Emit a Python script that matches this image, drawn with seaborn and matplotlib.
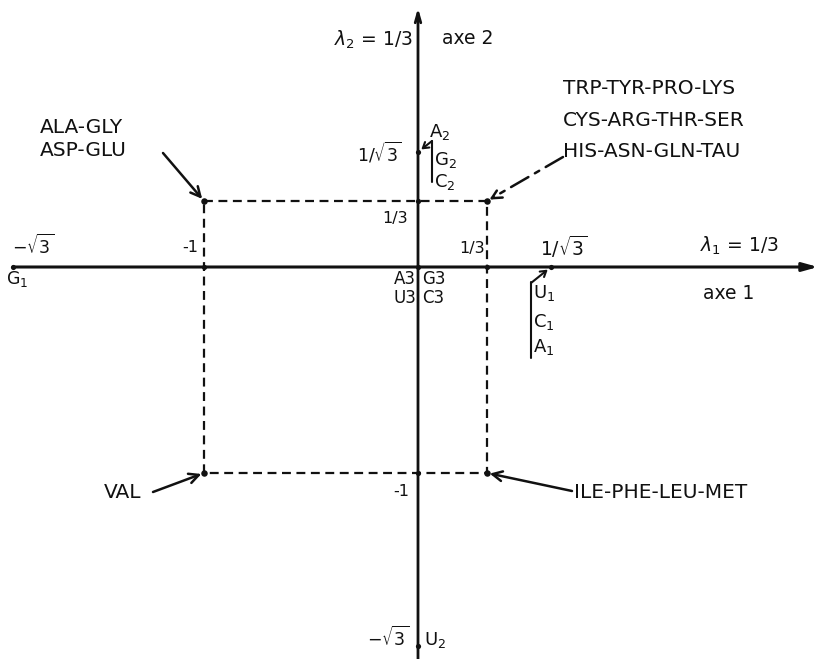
import numpy as np
import matplotlib
matplotlib.use("Agg")
import matplotlib.pyplot as plt
import seaborn as sns

R3 = np.sqrt(3)

# axis values (coordinates of the diagram, not to scale)
x_ticks = [-R3, -1, 1/3, 1/R3]
x_tick_labels = [r"$-\sqrt{3}$", "-1", "1/3", r"$1/\sqrt{3}$"]
y_ticks = [1/R3, 1/3, -1, -R3]
y_tick_labels = [r"$1/\sqrt{3}$", "1/3", "-1", r"$-\sqrt{3}$"]
axis_names = ["axe 1", "axe 2"]
eigen_labels = [r"$\lambda_1$ = 1/3", r"$\lambda_2$ = 1/3"]

# nucleotide positions
nuc_x = [-R3, 1/R3, 0, 0, 0]
nuc_y = [0, 0, 1/R3, -R3, 0]

# amino acid groups at the rectangle corners
aa_x = [-1, 1/3, -1, 1/3]
aa_y = [1/3, 1/3, -1, -1]
aa_groups = [
    "ALA-GLY\nASP-GLU",
    "TRP-TYR-PRO-LYS\nCYS-ARG-THR-SER\nHIS-ASN-GLN-TAU",
    "VAL",
    "ILE-PHE-LEU-MET",
]

W, H = 818, 659

# the drawing is not to scale: piecewise linear scale fitted to the picture
x_anchor = [-R3, -1, 0, 1/3, 1/R3]
x_pix = [13, 204, 418, 487, 551]
y_anchor = [-R3, -1, 0, 1/3, 1/R3]
y_pix = [H - 646, H - 473, H - 267, H - 201, H - 152]


def piecewise(vals, pix):
    vals = np.asarray(vals, float)
    pix = np.asarray(pix, float)

    def make(a, b):
        def f(v):
            v = np.asarray(v, float)
            out = np.interp(v, a, b)
            s0 = (b[1] - b[0]) / (a[1] - a[0])
            s1 = (b[-1] - b[-2]) / (a[-1] - a[-2])
            out = np.where(v < a[0], b[0] + (v - a[0]) * s0, out)
            out = np.where(v > a[-1], b[-1] + (v - a[-1]) * s1, out)
            return out
        return f
    return make(vals, pix), make(pix, vals)


xf, xi = piecewise(x_anchor, x_pix)
yf, yi = piecewise(y_anchor, y_pix)

sns.set_style("white")
plt.rcParams["font.family"] = ["DejaVu Sans"]
plt.rcParams["mathtext.fontset"] = "dejavusans"

fig = plt.figure(figsize=(W / 100, H / 100), dpi=100)
ax = fig.add_axes([0, 0, 1, 1])
ax.set_xscale("function", functions=(xf, xi))
ax.set_yscale("function", functions=(yf, yi))
ax.set_xlim(float(xi(0)), float(xi(W)))
ax.set_ylim(float(yi(0)), float(yi(H)))
ax.axis("off")

ink = "#111111"

# main axes with arrows
ax.annotate("", xy=(float(xi(818)), 0), xytext=(min(x_ticks), 0),
            arrowprops=dict(arrowstyle="-|>,head_length=0.9,head_width=0.25",
                            color=ink, lw=2.2, shrinkA=0, shrinkB=0))
ax.annotate("", xy=(0, float(yi(H - 8))), xytext=(0, float(yi(0))),
            arrowprops=dict(arrowstyle="->,head_length=0.7,head_width=0.2",
                            color=ink, lw=2.0, shrinkA=0, shrinkB=0))

# dashed rectangle through the amino acid points
rect_x = [aa_x[0], aa_x[1], aa_x[3], aa_x[2], aa_x[0]]
rect_y = [aa_y[0], aa_y[1], aa_y[3], aa_y[2], aa_y[0]]
ax.plot(rect_x, rect_y, color=ink, lw=1.6, ls=(0, (4, 2.5)))

# dots
sns.scatterplot(x=nuc_x + x_ticks[1:3] + [0, 0], y=nuc_y + [0, 0] + y_ticks[1:3],
                color=ink, s=14, edgecolor=ink, linewidth=0, ax=ax, zorder=5)
sns.scatterplot(x=aa_x, y=aa_y, color=ink, s=22, linewidth=0, ax=ax, zorder=5)


def put(txt, px, py, ha="left", size=10.5, **kw):
    fig.text(px / W, 1 - py / H, txt, ha=ha, va="center", fontsize=size,
             color=ink, **kw)


# axis labels
put(eigen_labels[1], 413, 40, ha="right", size=13.5)
put(axis_names[1], 442, 38, size=13.5)
put(eigen_labels[0], 700, 246, size=13.5)
put(axis_names[0], 703, 294, size=13.5)

# tick labels on x axis
put(x_tick_labels[0], 12, 246, size=12.5)
put(x_tick_labels[1], 182, 248, size=11.5)
put(x_tick_labels[2], 459, 248, size=11.5)
put(x_tick_labels[3], 540, 247, size=13.5)
# tick labels on y axis
put(y_tick_labels[0], 401, 153, ha="right", size=12.5)
put(y_tick_labels[1], 408, 218, ha="right", size=11.5)
put(y_tick_labels[2], 409, 492, ha="right", size=11.5)
put(y_tick_labels[3], 409, 638, ha="right", size=12.5)

# nucleotide labels
put(r"G$_1$", 6, 279, size=12.5)
put("A3", 416, 279, ha="right", size=12)
put("U3", 416, 298, ha="right", size=12)
put("G3", 422, 279, size=12)
put("C3", 422, 298, size=12)
put(r"A$_2$", 429, 132, size=13)
put(r"G$_2$", 434, 160, size=13)
put(r"C$_2$", 434, 182, size=13)
put(r"U$_1$", 533, 293, size=13)
put(r"C$_1$", 533, 322, size=13)
put(r"A$_1$", 533, 347, size=13)
put(r"U$_2$", 424, 640, size=13)

# bracket bars next to the nucleotide groups
ax.plot([float(xi(432))] * 2, [float(yi(H - 141)), float(yi(H - 182))], color=ink, lw=1.5)
ax.plot([float(xi(531))] * 2, [float(yi(H - 282)), float(yi(H - 358))], color=ink, lw=1.5)
arrow_small = dict(arrowstyle="->,head_length=0.4,head_width=0.25", color=ink, lw=1.5,
                   shrinkA=0, shrinkB=3)
ax.annotate("", xy=(nuc_x[2], nuc_y[2]), xytext=(432, H - 141),
            textcoords="figure pixels", arrowprops=arrow_small)
ax.annotate("", xy=(nuc_x[1], nuc_y[1]), xytext=(531, H - 283),
            textcoords="figure pixels", arrowprops=arrow_small)

# amino acid groups with arrows
arrow_big = dict(arrowstyle="->,head_length=0.7,head_width=0.35", color=ink, lw=1.8,
                 shrinkA=0, shrinkB=2)
aa_size = 14.5
put(aa_groups[0], 40, 139, size=aa_size, linespacing=1.3)
ax.annotate("", xy=(aa_x[0], aa_y[0]), xytext=(163, H - 153),
            textcoords="figure pixels", arrowprops=arrow_big)
put(aa_groups[1], 563, 120, size=aa_size, linespacing=1.82)
ax.annotate("", xy=(aa_x[1], aa_y[1]), xytext=(563, H - 157),
            textcoords="figure pixels", arrowprops=dict(arrow_big, ls=(0, (8, 3, 2, 3))))
put(aa_groups[2], 104, 493, size=aa_size)
ax.annotate("", xy=(aa_x[2], aa_y[2]), xytext=(153, H - 492),
            textcoords="figure pixels", arrowprops=arrow_big)
put(aa_groups[3], 574, 493, size=aa_size)
ax.annotate("", xy=(aa_x[3], aa_y[3]), xytext=(572, H - 491),
            textcoords="figure pixels", arrowprops=arrow_big)

fig.savefig("out.png", dpi=100)
